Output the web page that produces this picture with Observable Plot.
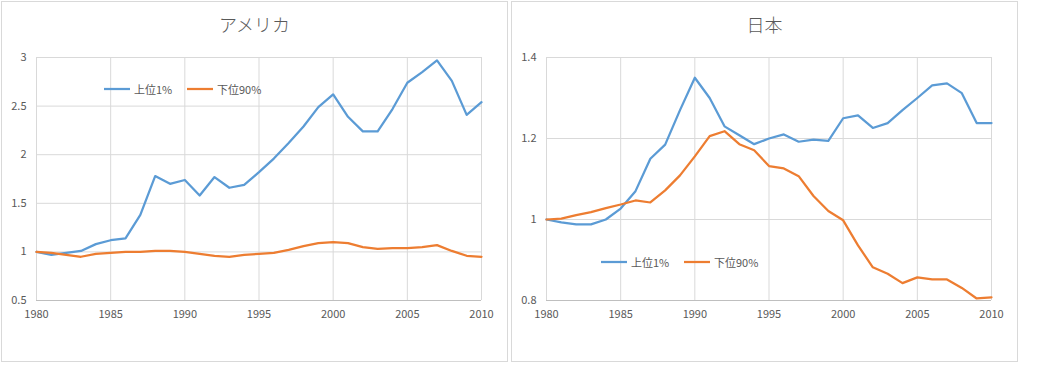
<!DOCTYPE html>
<html><head><meta charset="utf-8">
<script src="https://cdn.jsdelivr.net/npm/d3@7"></script>
<script src="https://cdn.jsdelivr.net/npm/@observablehq/plot@0.6"></script>
<style>
body{margin:0;background:#fff;width:1052px;height:380px;position:relative;overflow:hidden;font-family:"Noto Sans CJK JP","Noto Sans",sans-serif;}
.panel{position:absolute;top:1px;width:505px;height:359px;border:1px solid #d9d9d9;background:#fff}
.title{height:44px;line-height:44px;text-align:center;font-size:18px;color:#595959;font-weight:300}
.leg{position:absolute;font-size:11px;color:#595959;display:flex;align-items:center;white-space:nowrap;line-height:14px}
.leg svg{margin-right:4px}
</style></head>
<body>
<div class="panel" id="p1" style="left:1px"><div class="title" id="t1"></div></div>
<div class="panel" id="p2" style="left:511px"><div class="title" id="t2"></div></div>
<script>
const years = d3.range(1980, 2011);
const seriesNames = ["上位1%", "下位90%"];
const seriesColors = ["#5b9bd5", "#ed7d31"];
const titles = ["アメリカ", "日本"];
const usTop1 = [1.00,0.97,0.99,1.01,1.08,1.12,1.14,1.38,1.78,1.70,1.74,1.58,1.77,1.66,1.69,1.82,1.96,2.12,2.29,2.49,2.62,2.39,2.24,2.24,2.47,2.74,2.85,2.97,2.76,2.41,2.54];
const usBottom90 = [1.00,0.99,0.97,0.95,0.98,0.99,1.00,1.00,1.01,1.01,1.00,0.98,0.96,0.95,0.97,0.98,0.99,1.02,1.06,1.09,1.10,1.09,1.05,1.03,1.04,1.04,1.05,1.07,1.01,0.96,0.95];
const jpTop1 = [1.000,0.993,0.988,0.988,1.000,1.027,1.070,1.150,1.185,1.270,1.350,1.300,1.230,1.208,1.186,1.200,1.210,1.192,1.197,1.194,1.250,1.257,1.226,1.238,1.270,1.300,1.331,1.336,1.312,1.238,1.238];
const jpBottom90 = [1.000,1.002,1.011,1.018,1.028,1.037,1.047,1.042,1.072,1.109,1.156,1.206,1.218,1.186,1.171,1.132,1.126,1.107,1.058,1.021,0.998,0.936,0.882,0.866,0.843,0.857,0.852,0.852,0.831,0.805,0.808];
const xTicks = [1980,1985,1990,1995,2000,2005,2010];
const usYTicks = [0.5,1,1.5,2,2.5,3];
const jpYTicks = [0.8,1,1.2,1.4];

function makeChart(top, bottom, yTicks) {
  const a = years.map((y,i)=>({year:y, value:top[i]}));
  const b = years.map((y,i)=>({year:y, value:bottom[i]}));
  return Plot.plot({
    width:505, height:280, marginTop:11, marginLeft:34, marginRight:26, marginBottom:26,
    style:{fontFamily:'"Noto Sans CJK JP","Noto Sans",sans-serif', fontSize:"11px", color:"#595959", background:"transparent", overflow:"visible"},
    x:{domain:[1980,2010], ticks:xTicks, tickFormat:d=>String(d), tickSize:0, tickPadding:10, label:null},
    y:{domain:[yTicks[0], yTicks[yTicks.length-1]], ticks:yTicks, tickFormat:d=>String(d), tickSize:0, tickPadding:10, label:null},
    marks:[
      Plot.gridX(xTicks, {stroke:"#d9d9d9", strokeOpacity:1}),
      Plot.gridY(yTicks, {stroke:"#d9d9d9", strokeOpacity:1}),
      Plot.ruleY([yTicks[0]], {stroke:"#bfbfbf"}),
      Plot.line(a, {x:"year", y:"value", stroke:seriesColors[0], strokeWidth:2.25}),
      Plot.line(b, {x:"year", y:"value", stroke:seriesColors[1], strokeWidth:2.25})
    ]
  });
}

function legend(panel, positions) {
  seriesNames.forEach((name,i)=>{
    const d = document.createElement("div");
    d.className = "leg";
    d.style.left = positions[i][0] + "px";
    d.style.top = positions[i][1] + "px";
    d.innerHTML = `<svg width="26" height="4"><line x1="0" x2="26" y1="2" y2="2" stroke="${seriesColors[i]}" stroke-width="2.25"/></svg><span>${name}</span>`;
    panel.appendChild(d);
  });
}

document.getElementById("t1").textContent = titles[0];
document.getElementById("t2").textContent = titles[1];
document.getElementById("p1").appendChild(makeChart(usTop1, usBottom90, usYTicks));
document.getElementById("p2").appendChild(makeChart(jpTop1, jpBottom90, jpYTicks));
legend(document.getElementById("p1"), [[102,80],[185,80]]);
legend(document.getElementById("p2"), [[89,253],[172,253]]);
</script>
</body></html>
